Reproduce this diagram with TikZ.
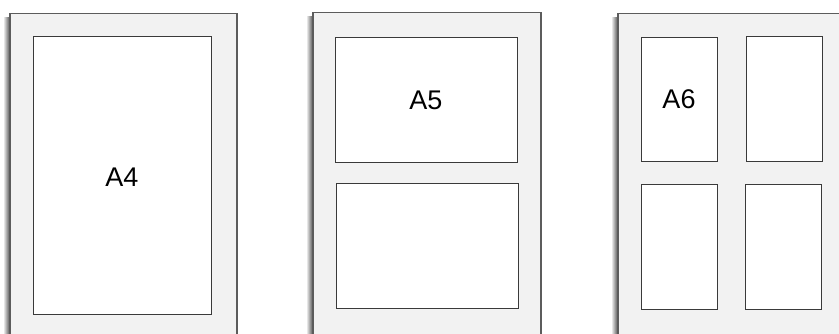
\documentclass[tikz,border=0pt]{standalone}
\usepackage{fontspec}
\setmainfont{Liberation Sans}
\usetikzlibrary{positioning}
\definecolor{sheet}{HTML}{F2F2F2}
\definecolor{edge}{HTML}{5C5C5C}
\definecolor{cut}{HTML}{3A3A3A}

\begin{document}
\begin{tikzpicture}[x=1pt,y=-1pt,
    pane/.style={fill=white,draw=cut,line width=0.9},
    lbl/.style={font=\fontsize{27}{32}\selectfont,inner sep=0pt}]
  \useasboundingbox (0,0) rectangle (839,334);
  \clip (0,0) rectangle (839,334);

  % A4 sheet
  \shade[left color=white,right color=black!70] (3,18) rectangle (10,340);
  \fill[sheet] (10,13.5) rectangle (237,340);
  \draw[edge,line width=1.4] (10,340) -- (10,13.5) -- (237,13.5) -- (237,340);
  \draw[pane] (33,36) rectangle (211,314);
  \node[lbl] (a4) at (122,177) {A4};

  % A5 sheet
  \shade[left color=white,right color=black!70] (306,17) rectangle (313,340);
  \fill[sheet] (313,12.5) rectangle (541,340);
  \draw[edge,line width=1.4] (313,340) -- (313,12.5) -- (541,12.5) -- (541,340);
  \draw[pane] (335,37) rectangle (517,162);
  \draw[pane] (336,183) rectangle (518,308);
  \node[lbl] (a5) at (426,100) {A5};

  % A6 sheet
  \shade[left color=white,right color=black!70] (611,18) rectangle (618,340);
  \fill[sheet] (618,13.5) rectangle (845,340);
  \draw[edge,line width=1.4] (618,340) -- (618,13.5) -- (845,13.5);
  \draw[pane] (641,37) rectangle (717,161);
  \draw[pane] (746,36) rectangle (822,161);
  \draw[pane] (641,184) rectangle (717,309);
  \draw[pane] (745,184) rectangle (821,309);
  \node[lbl] (a6) at (679,99) {A6};
\end{tikzpicture}
\end{document}
